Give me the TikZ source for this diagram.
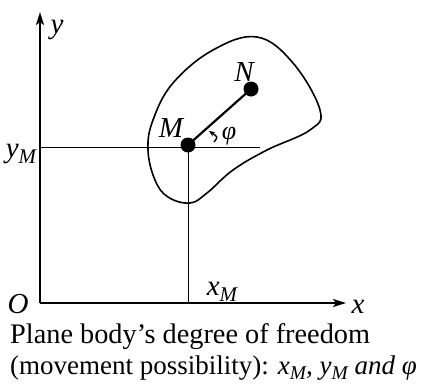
\documentclass[tikz,border=0pt]{standalone}
\usepackage{fontspec}
\setmainfont{Liberation Serif}
\usepackage{tikz}
\usetikzlibrary{arrows.meta,positioning,calc}
\newcommand{\lowsub}[1]{\raisebox{-0.22em}{\scalebox{0.72}{#1}}}
\tikzset{
  AX/.style={-{Stealth[length=13pt,width=8pt,inset=3pt]}, line width=2pt},
  TL/.style={line width=1pt},
  SA/.style={-{Stealth[length=6pt,width=5pt]}, line width=1.4pt}
}

\begin{document}
\begin{tikzpicture}[x=1pt,y=-1pt,
  DOT/.style={circle, fill=black, inner sep=0pt, minimum size=15pt},
  LB/.style={inner sep=0pt, font=\fontsize{29}{31}\selectfont\itshape},
  CB/.style={inner sep=0pt, anchor=base west, font=\fontsize{28.3}{31}\selectfont}
]
\useasboundingbox (0,0) rectangle (434,384);

% Body outline
\draw[line width=1.6pt] plot[smooth cycle, tension=0.65] coordinates {
  (257,37) (293,63) (320,110) (310,130) (267,150) (233,170)
  (207,193) (190,203) (168,197) (155,180) (148,150) (153,120)
  (173,83) (213,50)};

% Axes
\coordinate (O)    at (40,303);
\coordinate (xend) at (346,303);
\coordinate (yend) at (40,12);
\draw[AX] (O) -- (xend);
\draw[AX] (O) -- (yend);

% Points
\node[DOT] (M) at (188,145) {};
\node[DOT] (N) at (251,89) {};
\coordinate (yM)    at (40,147);
\coordinate (yMend) at (260,147);
\coordinate (xM)    at (188,303);

% Guide lines
\draw[TL] (yM) -- (yMend);
\draw[TL] (M.center) -- (xM);
\draw[line width=2.2pt] (M.center) -- (N.center);

% Angle arrow
\coordinate (phiA) at (214,142);
\coordinate (phiB) at (209,131);
\draw[SA] (phiA) .. controls (218,137) .. (phiB);

% Labels
\node[LB] (lO)  at (18,304)  {O};
\node[LB] (lx)  at (358,307) {x};
\node[LB] (ly)  at (57,30)   {y};
\node[LB] (lyM) at (21,154)  {y\lowsub{M}};
\node[LB] (lxM) at (222,292) {x\lowsub{M}};
\node[LB] (lM)  at (171,128) {M};
\node[LB] (lN)  at (244,72)  {N};
\node[LB, font=\fontsize{26}{28}\selectfont\itshape] (lphi) at (229,136) {φ};

% Caption
\node[CB] (cap1) at (10,343) {Plane body’s degree of freedom};
\node[CB, font=\fontsize{27}{30}\selectfont] (cap2) at (10,374)
  {(movement possibility): \textit{x\lowsub{M}, y\lowsub{M} and φ}};

\end{tikzpicture}
\end{document}
